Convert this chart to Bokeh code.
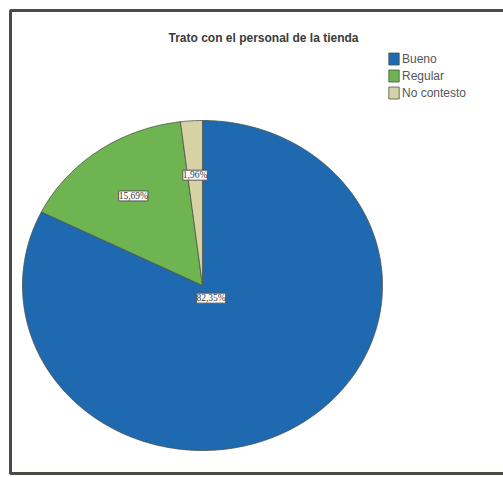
import numpy as np
from bokeh.plotting import figure
from bokeh.models import ColumnDataSource, Range1d, LabelSet, Label, Legend, LegendItem, BoxAnnotation
from bokeh.embed import file_html
from bokeh.resources import INLINE

# ---- data ----
categories = ["Bueno", "Regular", "No contesto"]
percentages = [82.35, 15.69, 1.96]
label_texts = ["82,35%", "15,69%", "1,96%"]
colors = ["#1e69af", "#6eb450", "#d7d2a5"]
title_text = "Trato con el personal de la tienda"

# ---- layout (page pixel coordinates) ----
W, H = 503, 477
CX, CY, RX, RY = 202, 285, 180, 165
label_frac = [0.09, 0.665, 0.67]

p = figure(width=W, height=H, output_backend="svg", toolbar_location=None,
           x_range=Range1d(0, 503), y_range=Range1d(477, 0),
           x_axis_location=None, y_axis_location=None,
           min_border_left=0, min_border_top=0, min_border_bottom=0, min_border_right=0)
p.grid.visible = False
p.outline_line_color = None
p.background_fill_color = "white"
p.border_fill_color = "white"

p.add_layout(BoxAnnotation(left=10, right=530, top=10, bottom=473, fill_alpha=0,
                           line_color="#464e46", line_width=3, line_alpha=1))

fr = np.array(percentages) / sum(percentages)
ends = np.cumsum(fr) * 2 * np.pi
starts = ends - fr * 2 * np.pi
xs, ys, lx, ly = [], [], [], []
for s, e, f in zip(starts, ends, label_frac):
    t = np.linspace(s, e, max(4, int((e - s) * 80)))
    xs.append([CX] + list(CX + RX * np.sin(t)) + [CX])
    ys.append([CY] + list(CY - RY * np.cos(t)) + [CY])
    m = (s + e) / 2
    lx.append(CX + RX * f * np.sin(m))
    ly.append(CY - RY * f * np.cos(m))

src = ColumnDataSource(dict(xs=xs, ys=ys, color=colors, cat=categories))
r = p.patches("xs", "ys", source=src, fill_color="color", line_color="#4a544a", line_width=0.8)

lsrc = ColumnDataSource(dict(x=lx, y=ly, text=label_texts))
p.add_layout(LabelSet(x="x", y="y", text="text", source=lsrc, text_align="center",
                      text_baseline="middle", text_font="Liberation Sans", text_font_size="9.5px",
                      text_color="#333333", background_fill_color="white",
                      border_line_color="#555555", border_line_width=1))

p.add_layout(Label(x=263, y=37, text=title_text, text_align="center", text_baseline="middle",
                   text_font="Liberation Sans", text_font_size="12px", text_font_style="bold",
                   text_color="#3a3a3a"))

items = [LegendItem(label=c, renderers=[r], index=i) for i, c in enumerate(categories)]
legend = Legend(items=items, location=(387, 377), glyph_width=13, glyph_height=15,
                label_height=15, label_standoff=2, spacing=2, padding=0, margin=0,
                border_line_alpha=0, background_fill_alpha=0,
                label_text_font="Liberation Sans", label_text_font_size="12px",
                label_text_color="#555555")
p.add_layout(legend)

open("out.html", "w").write(file_html(p, INLINE))
